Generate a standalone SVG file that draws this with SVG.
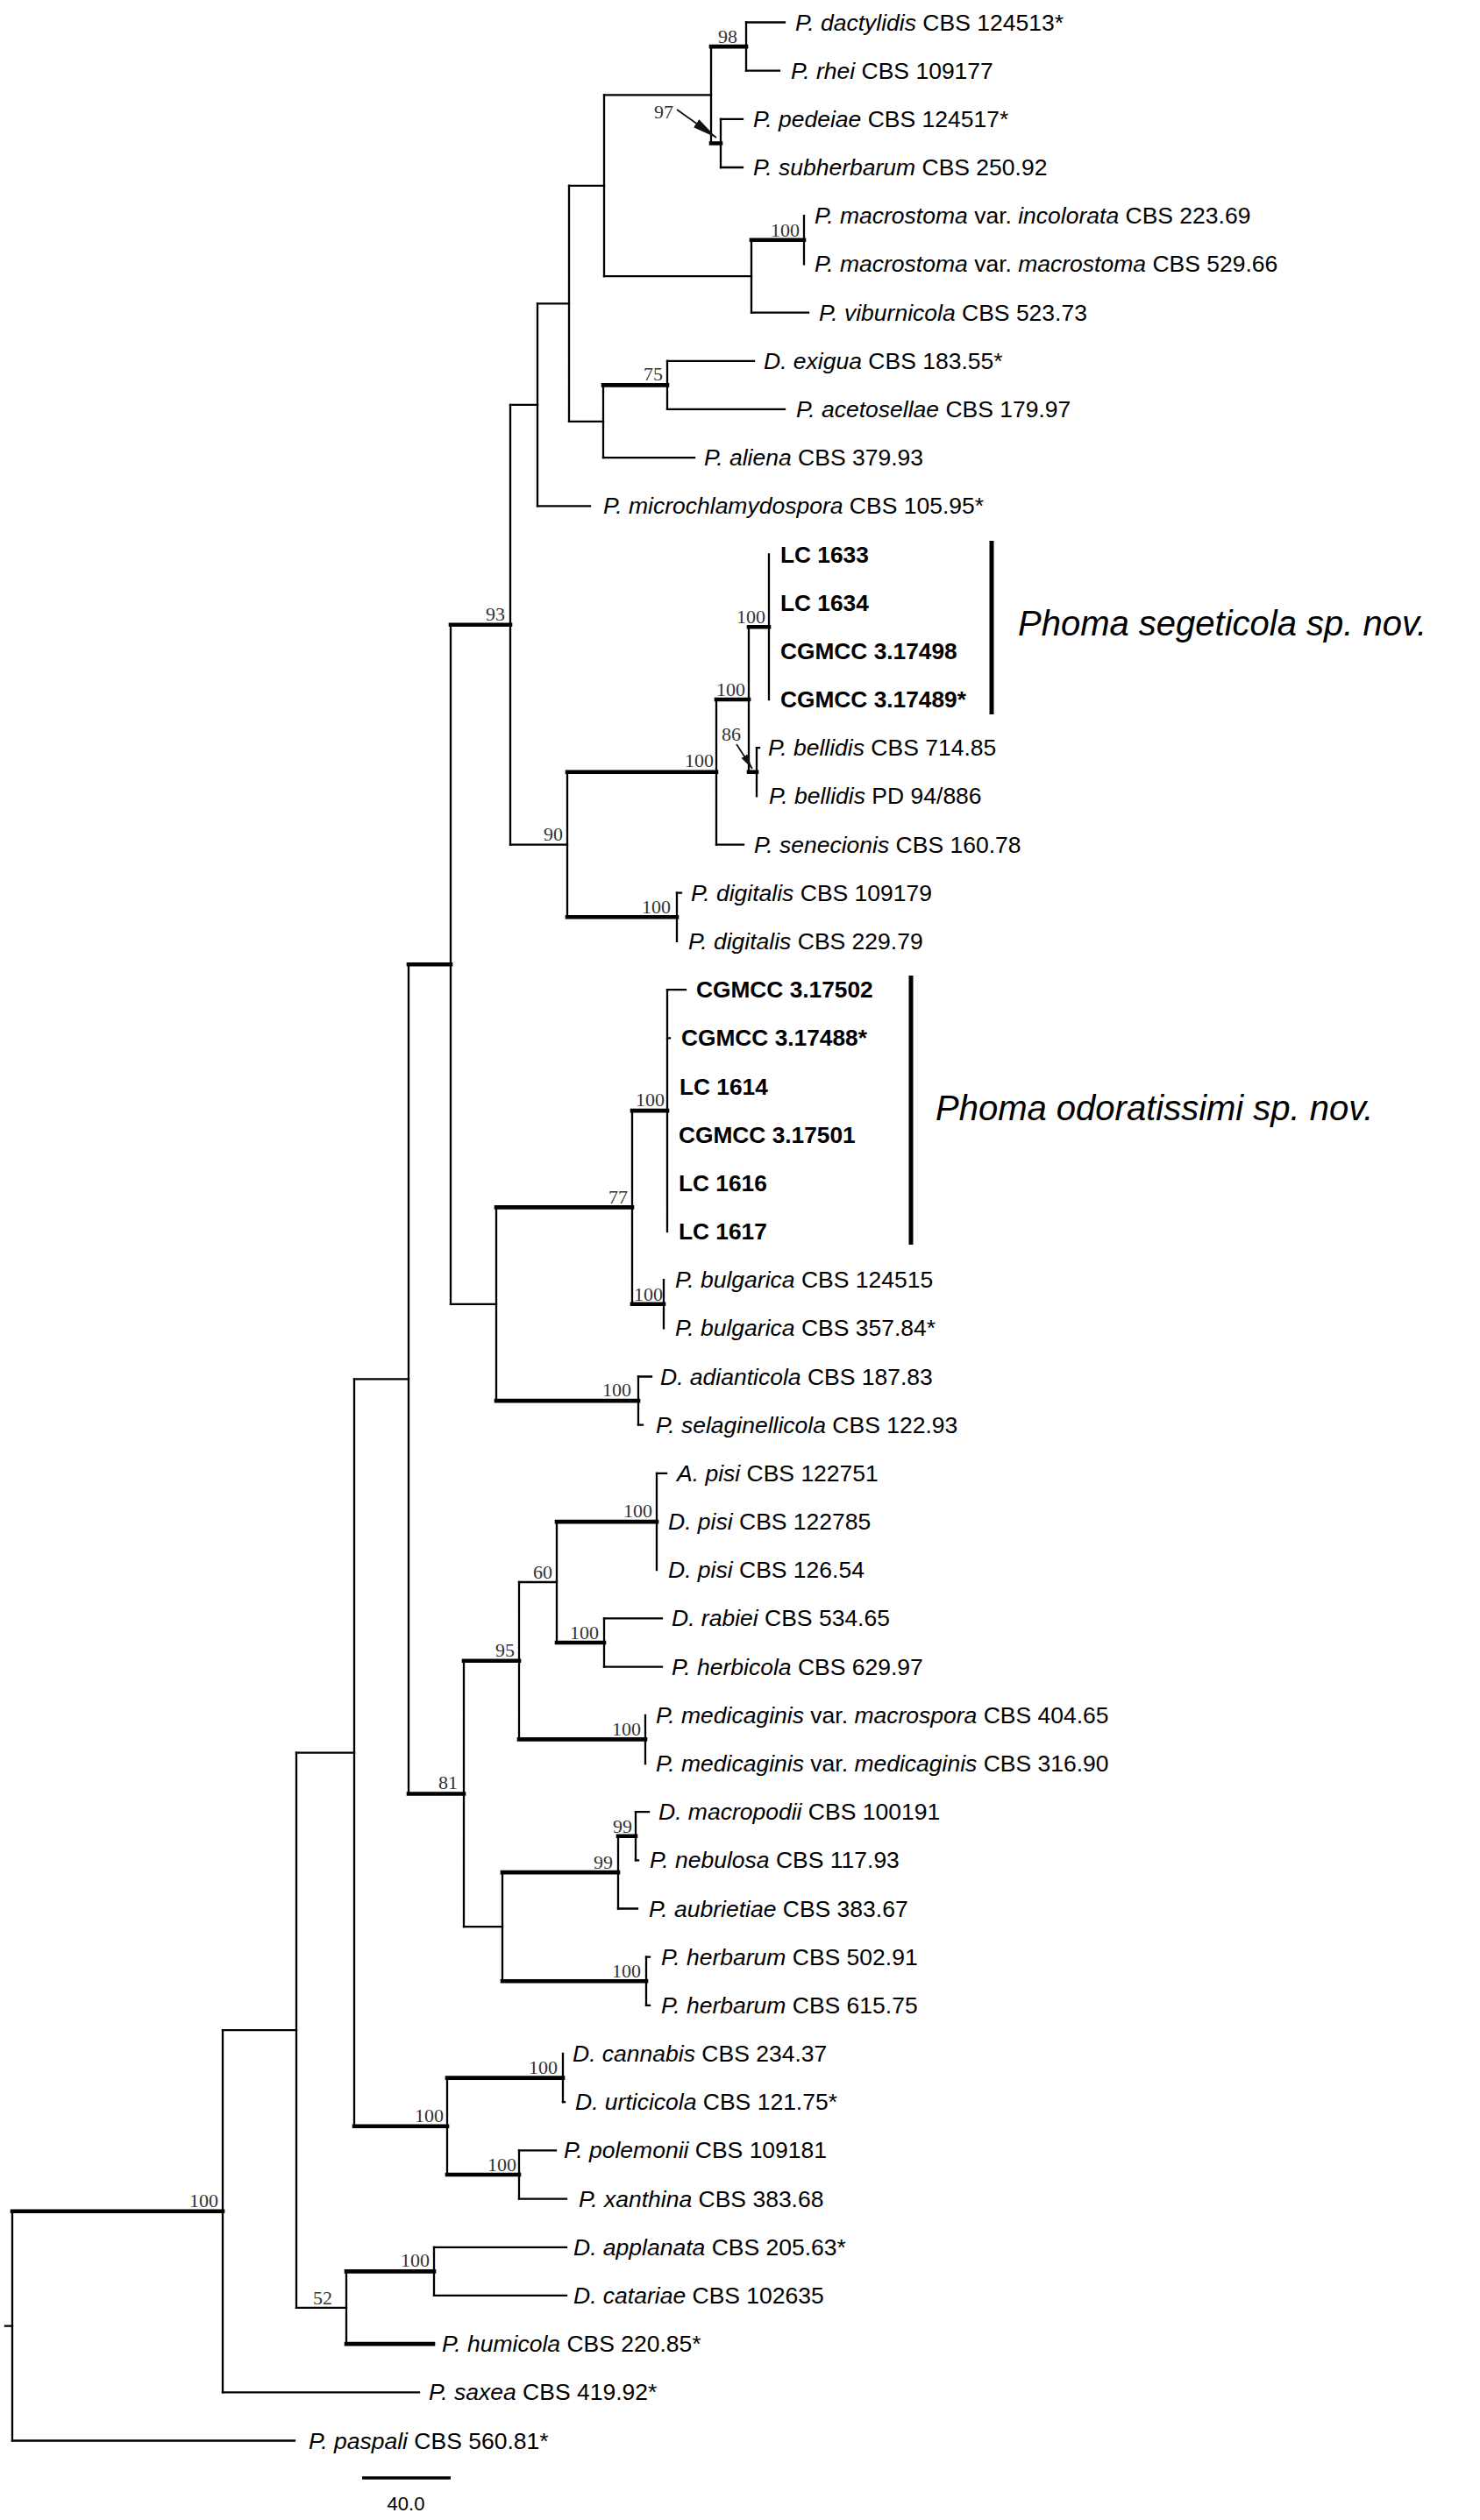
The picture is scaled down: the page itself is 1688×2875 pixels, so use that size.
<svg xmlns="http://www.w3.org/2000/svg" width="1688" height="2875" viewBox="0 0 1688 2875">
<style>
.b{stroke:#000;stroke-width:2.3;fill:none;stroke-linecap:square}
.t{stroke:#000;stroke-width:4.6;fill:none;stroke-linecap:square}
.br{stroke:#000;stroke-width:5;fill:none}
.lf{font-family:"Liberation Sans",Arial,sans-serif;font-size:26.5px;fill:#000}
.bd{font-weight:bold;font-size:26.3px}
.i{font-style:italic}
.bs{font-family:"Liberation Serif","Times New Roman",serif;font-size:22px;fill:#333;text-anchor:end}
.cl{font-family:"Liberation Sans",Arial,sans-serif;font-size:40px;font-style:italic;fill:#000}
</style>
<defs>
<marker id="ah" markerUnits="userSpaceOnUse" markerWidth="30" markerHeight="12" refX="28" refY="6" orient="auto">
<path d="M0,0.5 L28,6 L0,11.5 z" fill="#111"/>
</marker>
<marker id="ahs" markerUnits="userSpaceOnUse" markerWidth="18" markerHeight="9" refX="17" refY="4.5" orient="auto">
<path d="M0,0.5 L17,4.5 L0,8.5 z" fill="#111"/>
</marker>
</defs>
<rect width="1688" height="2875" fill="#fff"/>
<g id="connectors">
<path class="b" d="M14,2522.8V2784.5 M254,2316.2V2729.3 M338,1999.6V2632.8 M404,1573.4V2425.8 M466,1100.3V2046.5 M514,712.7V1487.8 M582,461.8V963.6 M613,346.3V577.3 M649,211.8V480.8 M689,108.3V315.2 M811,53.1V163.5 M851,25.5V80.7 M822,135.9V191 M857,273.8V356.6 M917,246.2V301.4 M688,439.4V522.1 M761,411.8V466.9 M647,880.8V1046.3 M817,798V963.6 M854,715.3V880.8 M877,632.5V798 M863,853.2V908.4 M772,1018.7V1073.9 M566,1377.4V1598.1 M721,1267.1V1487.8 M761,1129.1V1405 M757,1460.2V1515.4 M728,1570.5V1625.7 M529,1894.7V2198.2 M592,1805V1984.4 M635,1736.1V1874 M749,1680.9V1791.2 M689,1846.4V1901.6 M736,1956.8V2012 M573,2136.1V2260.3 M705,2094.7V2177.5 M725,2067.1V2122.3 M737,2232.7V2287.9 M510,2370.6V2481 M642,2343V2398.2 M592,2453.4V2508.6 M395,2591.4V2674.1 M495,2563.8V2618.9"/>
<path class="b" d="M6,2653.7H14 M14,2784.5H336 M254,2316.2H338 M254,2729.3H478 M338,1999.6H404 M338,2632.8H395 M404,1573.4H466 M514,1487.8H566 M582,461.8H613 M582,963.6H647 M613,346.3H649 M613,577.3H673 M649,211.8H689 M649,480.8H688 M689,108.3H811 M689,315.2H857 M851,25.5H895 M851,80.7H889 M822,135.9H847 M822,191H847 M857,356.6H922 M688,522.1H792 M761,411.8H860 M761,466.9H895 M817,963.6H848 M863,853.2H866 M772,1018.7H777 M761,1129.1H782 M761,1184.3H764 M728,1570.5H743 M728,1625.7H733 M749,1680.9H760 M689,1846.4H755 M689,1901.6H755 M592,1805H635 M529,2198.2H573 M705,2177.5H727 M725,2067.1H740 M725,2122.3H728 M737,2232.7H741 M737,2287.9H741 M642,2398.2H644 M592,2453.4H634 M592,2508.6H646 M495,2563.8H646 M495,2618.9H646"/>
<path class="t" d="M14,2522.8H254 M404,2425.8H510 M466,1100.3H514 M466,2046.5H529 M514,712.7H582 M811,53.1H851 M811,163.5H822 M857,273.8H917 M688,439.4H761 M647,880.8H817 M647,1046.3H772 M817,798H854 M854,715.3H877 M854,880.8H863 M566,1377.4H721 M566,1598.1H728 M721,1267.1H761 M721,1487.8H757 M529,1894.7H592 M592,1984.4H736 M635,1736.1H749 M635,1874H689 M573,2136.1H705 M573,2260.3H737 M705,2094.7H725 M510,2370.6H642 M510,2481H592 M395,2591.4H495 M395,2674.1H494"/>
<line x1="772" y1="125" x2="817" y2="157" stroke="#111" stroke-width="1.8" marker-end="url(#ah)"/>
<line x1="840" y1="849" x2="858" y2="877" stroke="#111" stroke-width="1.8" marker-end="url(#ahs)"/>
</g>
<g id="support-values" class="bs">
<text x="841" y="49">98</text>
<text x="768" y="135">97</text>
<text x="912" y="270">100</text>
<text x="756" y="434">75</text>
<text x="576" y="708">93</text>
<text x="873" y="711">100</text>
<text x="850" y="794">100</text>
<text x="845" y="845">86</text>
<text x="814" y="875">100</text>
<text x="642" y="959">90</text>
<text x="765" y="1042">100</text>
<text x="758" y="1262">100</text>
<text x="716" y="1373">77</text>
<text x="756" y="1484">100</text>
<text x="720" y="1593">100</text>
<text x="744" y="1731">100</text>
<text x="630" y="1801">60</text>
<text x="683" y="1870">100</text>
<text x="587" y="1890">95</text>
<text x="731" y="1980">100</text>
<text x="522" y="2041">81</text>
<text x="721" y="2091">99</text>
<text x="699" y="2132">99</text>
<text x="731" y="2256">100</text>
<text x="636" y="2366">100</text>
<text x="506" y="2421">100</text>
<text x="589" y="2477">100</text>
<text x="249" y="2518">100</text>
<text x="490" y="2586">100</text>
<text x="379" y="2629">52</text>
</g>
<g id="leaf-01" class="lf"><text x="907" y="34.5"><tspan class="i">P. dactylidis</tspan> CBS 124513*</text></g>
<g id="leaf-02" class="lf"><text x="902" y="89.7"><tspan class="i">P. rhei</tspan> CBS 109177</text></g>
<g id="leaf-03" class="lf"><text x="859" y="144.9"><tspan class="i">P. pedeiae</tspan> CBS 124517*</text></g>
<g id="leaf-04" class="lf"><text x="859" y="200"><tspan class="i">P. subherbarum</tspan> CBS 250.92</text></g>
<g id="leaf-05" class="lf"><text x="929" y="255.2"><tspan class="i">P. macrostoma</tspan> var. <tspan class="i">incolorata</tspan> CBS 223.69</text></g>
<g id="leaf-06" class="lf"><text x="929" y="310.4"><tspan class="i">P. macrostoma</tspan> var. <tspan class="i">macrostoma</tspan> CBS 529.66</text></g>
<g id="leaf-07" class="lf"><text x="934" y="365.6"><tspan class="i">P. viburnicola</tspan> CBS 523.73</text></g>
<g id="leaf-08" class="lf"><text x="871" y="420.8"><tspan class="i">D. exigua</tspan> CBS 183.55*</text></g>
<g id="leaf-09" class="lf"><text x="908" y="475.9"><tspan class="i">P. acetosellae</tspan> CBS 179.97</text></g>
<g id="leaf-10" class="lf"><text x="803" y="531.1"><tspan class="i">P. aliena</tspan> CBS 379.93</text></g>
<g id="leaf-11" class="lf"><text x="688" y="586.3"><tspan class="i">P. microchlamydospora</tspan> CBS 105.95*</text></g>
<g id="leaf-12" class="lf bd"><text x="890" y="641.5">LC 1633</text></g>
<g id="leaf-13" class="lf bd"><text x="890" y="696.7">LC 1634</text></g>
<g id="leaf-14" class="lf bd"><text x="890" y="751.8">CGMCC 3.17498</text></g>
<g id="leaf-15" class="lf bd"><text x="890" y="807">CGMCC 3.17489*</text></g>
<g id="leaf-16" class="lf"><text x="876" y="862.2"><tspan class="i">P. bellidis</tspan> CBS 714.85</text></g>
<g id="leaf-17" class="lf"><text x="877" y="917.4"><tspan class="i">P. bellidis</tspan> PD 94/886</text></g>
<g id="leaf-18" class="lf"><text x="860" y="972.6"><tspan class="i">P. senecionis</tspan> CBS 160.78</text></g>
<g id="leaf-19" class="lf"><text x="788" y="1027.7"><tspan class="i">P. digitalis</tspan> CBS 109179</text></g>
<g id="leaf-20" class="lf"><text x="785" y="1082.9"><tspan class="i">P. digitalis</tspan> CBS 229.79</text></g>
<g id="leaf-21" class="lf bd"><text x="794" y="1138.1">CGMCC 3.17502</text></g>
<g id="leaf-22" class="lf bd"><text x="777" y="1193.3">CGMCC 3.17488*</text></g>
<g id="leaf-23" class="lf bd"><text x="775" y="1248.5">LC 1614</text></g>
<g id="leaf-24" class="lf bd"><text x="774" y="1303.6">CGMCC 3.17501</text></g>
<g id="leaf-25" class="lf bd"><text x="774" y="1358.8">LC 1616</text></g>
<g id="leaf-26" class="lf bd"><text x="774" y="1414">LC 1617</text></g>
<g id="leaf-27" class="lf"><text x="770" y="1469.2"><tspan class="i">P. bulgarica</tspan> CBS 124515</text></g>
<g id="leaf-28" class="lf"><text x="770" y="1524.4"><tspan class="i">P. bulgarica</tspan> CBS 357.84*</text></g>
<g id="leaf-29" class="lf"><text x="753" y="1579.5"><tspan class="i">D. adianticola</tspan> CBS 187.83</text></g>
<g id="leaf-30" class="lf"><text x="748" y="1634.7"><tspan class="i">P. selaginellicola</tspan> CBS 122.93</text></g>
<g id="leaf-31" class="lf"><text x="772" y="1689.9"><tspan class="i">A. pisi</tspan> CBS 122751</text></g>
<g id="leaf-32" class="lf"><text x="762" y="1745.1"><tspan class="i">D. pisi</tspan> CBS 122785</text></g>
<g id="leaf-33" class="lf"><text x="762" y="1800.2"><tspan class="i">D. pisi</tspan> CBS 126.54</text></g>
<g id="leaf-34" class="lf"><text x="766" y="1855.4"><tspan class="i">D. rabiei</tspan> CBS 534.65</text></g>
<g id="leaf-35" class="lf"><text x="766" y="1910.6"><tspan class="i">P. herbicola</tspan> CBS 629.97</text></g>
<g id="leaf-36" class="lf"><text x="748" y="1965.8"><tspan class="i">P. medicaginis</tspan> var. <tspan class="i">macrospora</tspan> CBS 404.65</text></g>
<g id="leaf-37" class="lf"><text x="748" y="2021"><tspan class="i">P. medicaginis</tspan> var. <tspan class="i">medicaginis</tspan> CBS 316.90</text></g>
<g id="leaf-38" class="lf"><text x="751" y="2076.1"><tspan class="i">D. macropodii</tspan> CBS 100191</text></g>
<g id="leaf-39" class="lf"><text x="741" y="2131.3"><tspan class="i">P. nebulosa</tspan> CBS 117.93</text></g>
<g id="leaf-40" class="lf"><text x="740" y="2186.5"><tspan class="i">P. aubrietiae</tspan> CBS 383.67</text></g>
<g id="leaf-41" class="lf"><text x="754" y="2241.7"><tspan class="i">P. herbarum</tspan> CBS 502.91</text></g>
<g id="leaf-42" class="lf"><text x="754" y="2296.9"><tspan class="i">P. herbarum</tspan> CBS 615.75</text></g>
<g id="leaf-43" class="lf"><text x="653" y="2352"><tspan class="i">D. cannabis</tspan> CBS 234.37</text></g>
<g id="leaf-44" class="lf"><text x="656" y="2407.2"><tspan class="i">D. urticicola</tspan> CBS 121.75*</text></g>
<g id="leaf-45" class="lf"><text x="643" y="2462.4"><tspan class="i">P. polemonii</tspan> CBS 109181</text></g>
<g id="leaf-46" class="lf"><text x="660" y="2517.6"><tspan class="i">P. xanthina</tspan> CBS 383.68</text></g>
<g id="leaf-47" class="lf"><text x="654" y="2572.8"><tspan class="i">D. applanata</tspan> CBS 205.63*</text></g>
<g id="leaf-48" class="lf"><text x="654" y="2627.9"><tspan class="i">D. catariae</tspan> CBS 102635</text></g>
<g id="leaf-49" class="lf"><text x="504" y="2683.1"><tspan class="i">P. humicola</tspan> CBS 220.85*</text></g>
<g id="leaf-50" class="lf"><text x="489" y="2738.3"><tspan class="i">P. saxea</tspan> CBS 419.92*</text></g>
<g id="leaf-51" class="lf"><text x="352" y="2793.5"><tspan class="i">P. paspali</tspan> CBS 560.81*</text></g>
<g id="clade-segeticola">
<line class="br" x1="1131" y1="617" x2="1131" y2="815"/>
<text class="cl" x="1161" y="725">Phoma segeticola sp. nov.</text>
</g>
<g id="clade-odoratissimi">
<line class="br" x1="1039" y1="1113" x2="1039" y2="1420"/>
<text class="cl" x="1067" y="1278">Phoma odoratissimi sp. nov.</text>
</g>
<g id="scale-bar">
<line x1="413" y1="2827" x2="514" y2="2827" stroke="#000" stroke-width="3.5"/>
<text x="463" y="2864" text-anchor="middle" font-family="Liberation Sans, Arial, sans-serif" font-size="22">40.0</text>
</g>
</svg>
